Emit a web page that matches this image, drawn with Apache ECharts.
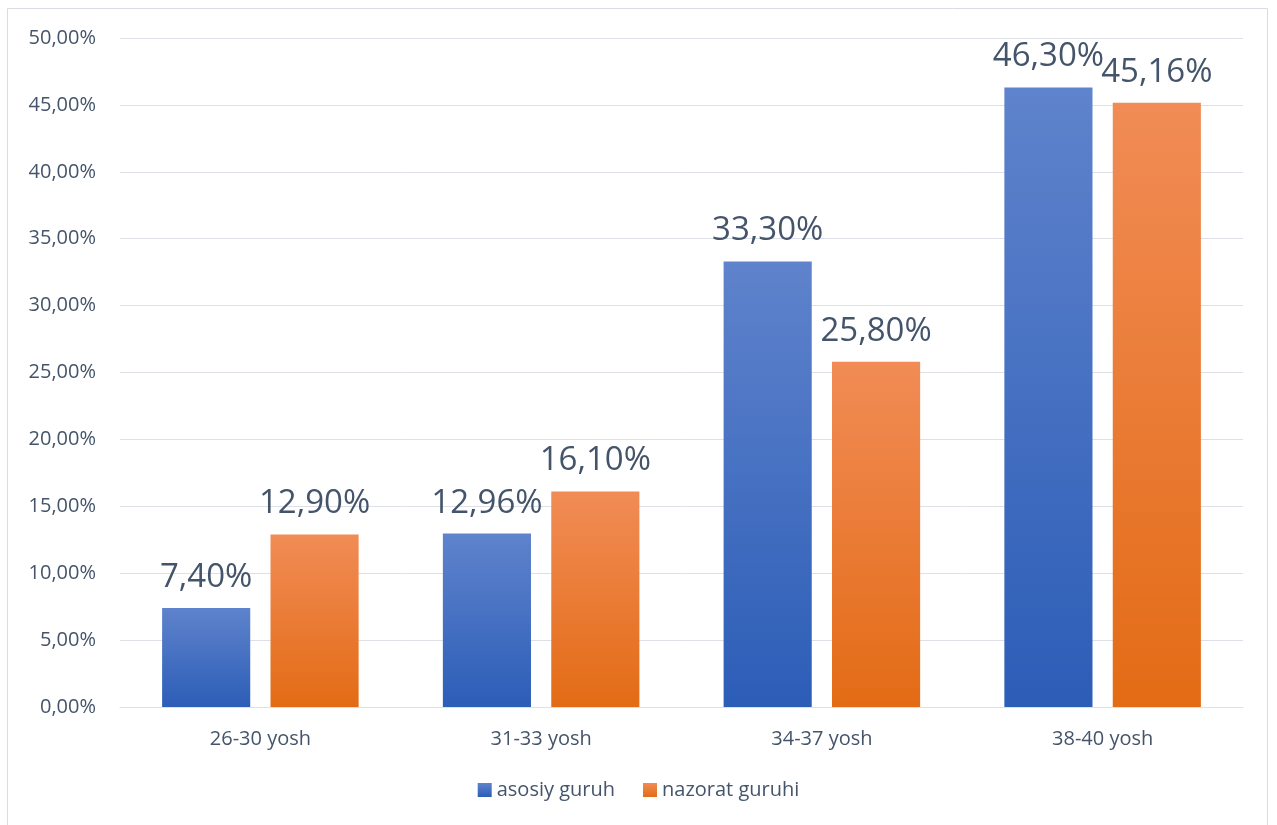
<!DOCTYPE html>
<html>
<head>
<meta charset="utf-8">
<script src="https://cdn.jsdelivr.net/npm/echarts@6/dist/echarts.min.js"></script>
<style>
html,body{margin:0;padding:0;background:#fff;}
#chart{width:1277px;height:825px;}
</style>
</head>
<body>
<div id="chart"></div>
<script>
const categories = ['26-30 yosh', '31-33 yosh', '34-37 yosh', '38-40 yosh'];
const asosiyGuruh = [7.40, 12.96, 33.30, 46.30];
const nazoratGuruhi = [12.90, 16.10, 25.80, 45.16];
const seriesNames = ['asosiy guruh', 'nazorat guruhi'];

const fmt = v => v.toFixed(2).replace('.', ',') + '%';
const FONT = 'Open Sans';
const TXT = '#44546a';

const blueGrad = {type:'linear',x:0,y:0,x2:0,y2:1,colorStops:[{offset:0,color:'#5f83cc'},{offset:1,color:'#2c5db7'}]};
const orangeGrad = {type:'linear',x:0,y:0,x2:0,y2:1,colorStops:[{offset:0,color:'#f18c56'},{offset:1,color:'#e36b15'}]};

const chart = echarts.init(document.getElementById('chart'), null, {renderer:'canvas'});
const labelCfg = {
  show:true, position:'top', distance:14,
  formatter: p => fmt(p.value),
  color: TXT, fontSize: 33, fontFamily: FONT
};
chart.setOption({
  animation:false,
  textStyle:{fontFamily:FONT},
  graphic:[{type:'rect', shape:{x:7.5,y:8.5,width:1260,height:830}, style:{fill:'none', stroke:'#d9dde3', lineWidth:1}, silent:true}],
  grid:{left:120, right:34, top:38, bottom:118, containLabel:false},
  legend:{
    bottom:20, left:'center', itemWidth:14, itemHeight:14, itemGap:28,
    icon:'rect',
    textStyle:{color:TXT, fontSize:20, fontFamily:FONT},
    data:seriesNames
  },
  xAxis:{
    type:'category', data:categories,
    axisLine:{lineStyle:{color:'#dde1e7', width:1}},
    axisTick:{show:false},
    axisLabel:{color:TXT, fontSize:20, margin:22, fontFamily:FONT}
  },
  yAxis:{
    type:'value', min:0, max:50, interval:5,
    axisLine:{show:false}, axisTick:{show:false},
    splitLine:{lineStyle:{color:'#dde1e7', width:1}},
    axisLabel:{color:TXT, fontSize:20, margin:24, fontFamily:FONT, formatter: v => fmt(v)}
  },
  series:[
    {name:seriesNames[0], type:'bar', data:asosiyGuruh, barGap:'23%', barCategoryGap:'30%',
     itemStyle:{color:blueGrad}, label:labelCfg},
    {name:seriesNames[1], type:'bar', data:nazoratGuruhi,
     itemStyle:{color:orangeGrad}, label:labelCfg}
  ]
});
</script>
</body>
</html>
